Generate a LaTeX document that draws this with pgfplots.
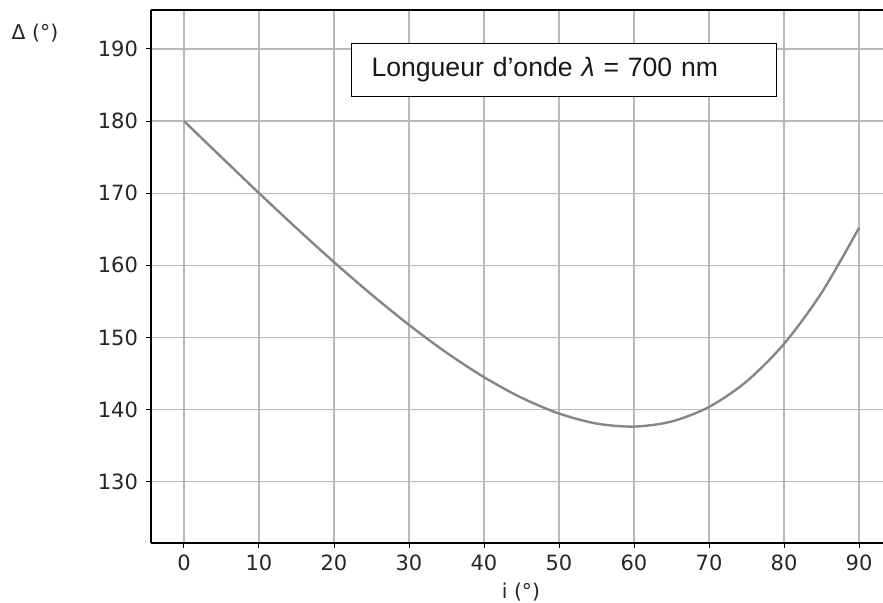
\documentclass[border=0pt]{standalone}
\usepackage{fontspec}
\setmainfont{DejaVu Sans}
\newfontfamily\arial{Liberation Sans}
\usepackage{pgfplots}
\pgfplotsset{compat=1.18}

\begin{document}
\begin{tikzpicture}
% page = 883x603 px at 0.5pt per px; axis box starts at px (151,543)
\useasboundingbox (-75.5pt,-30pt) rectangle (366pt,271.5pt);
\begin{axis}[
  at={(0,0)},anchor=south west,
  scale only axis,
  width=366pt,height=266.5pt,
  xmin=-4.4,xmax=93.2,ymin=121.5,ymax=195.4,
  axis x line*=bottom, axis y line*=left,
  x axis line style={-}, y axis line style={-},
  axis line style={line width=0.7pt,black},
  tick align=outside, major tick length=2.5pt,
  tick style={black,line width=0.5pt},
  xtick={0,10,...,90}, ytick={130,140,...,190},
  grid=major, grid style={color=gray!55,line width=0.6pt},
  ticklabel style={font=\fontsize{10.5}{12}\selectfont,text=black!85},
  yticklabel style={xshift=-0.5pt},
  /pgf/number format/assume math mode=true,
  clip=false
]
\addplot[smooth,color=gray!95,line width=1.2pt] coordinates {
(0,180)(5,174.98)(10,170.01)(15,165.15)(20,160.44)(25,155.95)(30,151.74)
(35,147.89)(40,144.49)(45,141.64)(50,139.45)(55,138.06)(60,137.64)
(65,138.34)(70,140.36)(75,143.89)(80,149.11)(85,156.17)(90,165.18)
};
\draw[line width=0.7pt,black] (rel axis cs:0,1) -- (rel axis cs:1,1);
\node[draw=black,line width=0.5pt,fill=white,anchor=north west,
  minimum height=26.5pt,inner xsep=10pt,text width=192.5pt,align=left,
  font=\arial\fontsize{13.3}{15}\selectfont,text=black!90]
  at (axis cs:22.27,190.83) {Longueur d’onde \textit{λ} = 700 nm};
\end{axis}
\node[font=\fontsize{10.2}{12}\selectfont,text=black!85] at (-58pt,255pt) {Δ (°)};
\node[font=\fontsize{10.2}{12}\selectfont,text=black!85] at (185pt,-24.5pt) {i (°)};
\end{tikzpicture}
\end{document}
